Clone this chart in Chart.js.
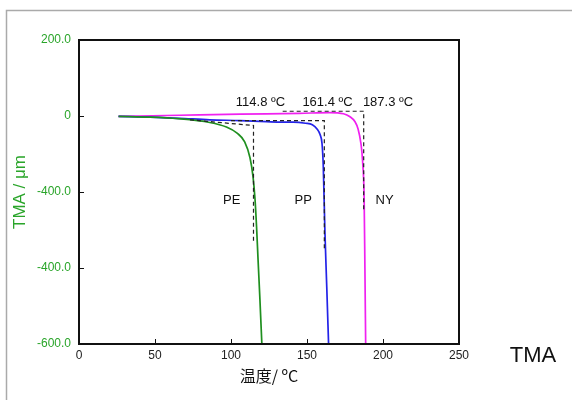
<!DOCTYPE html>
<html>
<head>
<meta charset="utf-8">
<script src="https://cdn.jsdelivr.net/npm/chart.js@4"></script>
<style>
  body { margin: 0; background: #fff; }
</style>
</head>
<body>
<canvas id="chartArea" width="572" height="400"></canvas>
<script>
// temperature (°C) and TMA (µm)
var peTemp = [26, 47, 65, 86, 97, 104, 109, 112.5, 114.5, 115.8, 116.8, 117.8, 119, 120.3]
var peTMA  = [-1, -3, -7, -17, -29, -45, -68, -110, -160, -219, -290, -378, -480, -600]

var ppTemp = [26, 47, 66, 86, 106, 119, 132, 141, 149, 153.5, 156.6, 158.6, 159.9, 160.7, 161.8, 163, 164.2]
var ppTMA  = [-1, -3, -6, -10, -12, -14, -16, -16, -19, -23, -34, -49, -73, -131, -306, -450, -600]

var nyTemp = [26, 66, 106, 145, 165, 174, 178.3, 181.6, 183.6, 185.5, 186.6, 187.6, 188.1, 188.6]
var nyTMA  = [-1, 2, 5, 7, 9, 6, -2, -15, -34, -73, -120, -219, -400, -600]

// onset construction lines
var peOnsetT = [73, 114.8, 114.8]
var peOnsetV = [-10, -25, -330]
var ppOnsetT = [100, 161.4, 161.4]
var ppOnsetV = [-12, -12, -350]
var nyOnsetT = [134, 187.3, 187.3]
var nyOnsetV = [12.5, 12.5, -250]

var onsetLabels = ['114.8 ºC', '161.4 ºC', '187.3 ºC']
var onsetLabelTemps = [119.4, 163.5, 203.3]
var sampleNames = ['PE', 'PP', 'NY']
var sampleTemps = [100.5, 147.5, 201]

var yTickValues = [200, 0, -200, -400, -600]
var yTickLabels = ['200.0', '0', '-400.0', '-400.0', '-600.0']

function pts(xs, ys) {
  var out = []
  for (var i = 0; i < xs.length; i++) out.push({x: xs[i], y: ys[i]})
  return out
}

var FONT = "'Liberation Sans', Arial, sans-serif"
var GREEN = '#2aa52a'

function curve(data, color) {
  return {
    data: data, borderColor: color, borderWidth: 1.7,
    pointRadius: 0, cubicInterpolationMode: 'monotone', fill: false
  }
}
function dashed(data) {
  return {
    data: data, borderColor: '#222', borderWidth: 1.2, borderDash: [4, 3],
    pointRadius: 0, tension: 0, fill: false
  }
}

var framePlugin = {
  id: 'frame',
  beforeDraw: function(chart) {
    var ctx = chart.ctx
    ctx.save()
    ctx.strokeStyle = '#aaa'
    ctx.lineWidth = 1.5
    ctx.strokeRect(6.5, 10.5, 700, 500)
    ctx.restore()
  },
  afterDraw: function(chart) {
    var ctx = chart.ctx
    var a = chart.chartArea
    var xs = chart.scales.x, ys = chart.scales.y
    ctx.save()
    ctx.strokeStyle = '#111'
    ctx.lineWidth = 2
    ctx.strokeRect(a.left, a.top, a.right - a.left, a.bottom - a.top)
    ctx.lineWidth = 1
    ctx.beginPath()
    xs.ticks.forEach(function(t) {
      var px = Math.round(xs.getPixelForValue(t.value)) + 0.5
      ctx.moveTo(px, a.bottom); ctx.lineTo(px, a.bottom - 5)
    })
    ys.ticks.forEach(function(t) {
      var py = Math.round(ys.getPixelForValue(t.value)) + 0.5
      ctx.moveTo(a.left, py); ctx.lineTo(a.left + 5, py)
    })
    ctx.stroke()

    ctx.fillStyle = '#111'
    ctx.font = '13px ' + FONT
    ctx.textAlign = 'center'
    ctx.textBaseline = 'middle'
    var labelY = ys.getPixelForValue(36)
    for (var i = 0; i < onsetLabels.length; i++) {
      ctx.fillText(onsetLabels[i], xs.getPixelForValue(onsetLabelTemps[i]), labelY)
    }
    var nameY = ys.getPixelForValue(-222)
    for (var j = 0; j < sampleNames.length; j++) {
      ctx.fillText(sampleNames[j], xs.getPixelForValue(sampleTemps[j]), nameY)
    }
    ctx.font = '22px ' + FONT
    ctx.fillText('TMA', 533, 356)
    ctx.restore()
  }
}

var ctx = document.getElementById('chartArea').getContext('2d')
var myChart = new Chart(ctx, {
  type: 'line',
  data: {
    datasets: [
      dashed(pts(peOnsetT, peOnsetV)),
      dashed(pts(ppOnsetT, ppOnsetV)),
      dashed(pts(nyOnsetT, nyOnsetV)),
      curve(pts(peTemp, peTMA), '#1f8f1f'),
      curve(pts(ppTemp, ppTMA), '#2323e8'),
      curve(pts(nyTemp, nyTMA), '#f020f0')
    ]
  },
  options: {
    responsive: false,
    animation: false,
    layout: { padding: { left: 0, top: 40, right: 113, bottom: 0 } },
    plugins: { legend: { display: false }, tooltip: { enabled: false } },
    scales: {
      x: {
        type: 'linear', min: 0, max: 250,
        afterFit: function(s) { s.height = 56 },
        grid: { display: false, drawTicks: false },
        border: { display: false },
        ticks: { stepSize: 50, padding: 4, color: '#222', font: { family: FONT, size: 12 } },
        title: { display: true, text: '温度/ ºC', color: '#111', padding: { bottom: 14 },
                 font: { family: "'Noto Sans CJK JP', " + FONT, size: 16 } }
      },
      y: {
        type: 'linear', min: -600, max: 200,
        afterFit: function(s) { s.width = 79 },
        afterBuildTicks: function(s) { s.ticks = yTickValues.map(function(v) { return {value: v} }) },
        grid: { display: false, drawTicks: false },
        border: { display: false },
        ticks: {
          padding: 8, color: GREEN, font: { family: FONT, size: 12 },
          callback: function(v) { return yTickLabels[yTickValues.indexOf(v)] }
        },
        title: { display: true, text: 'TMA / μm', color: GREEN, padding: { top: 10 },
                 font: { family: FONT, size: 17 } }
      }
    }
  },
  plugins: [framePlugin]
})
</script>
</body>
</html>
